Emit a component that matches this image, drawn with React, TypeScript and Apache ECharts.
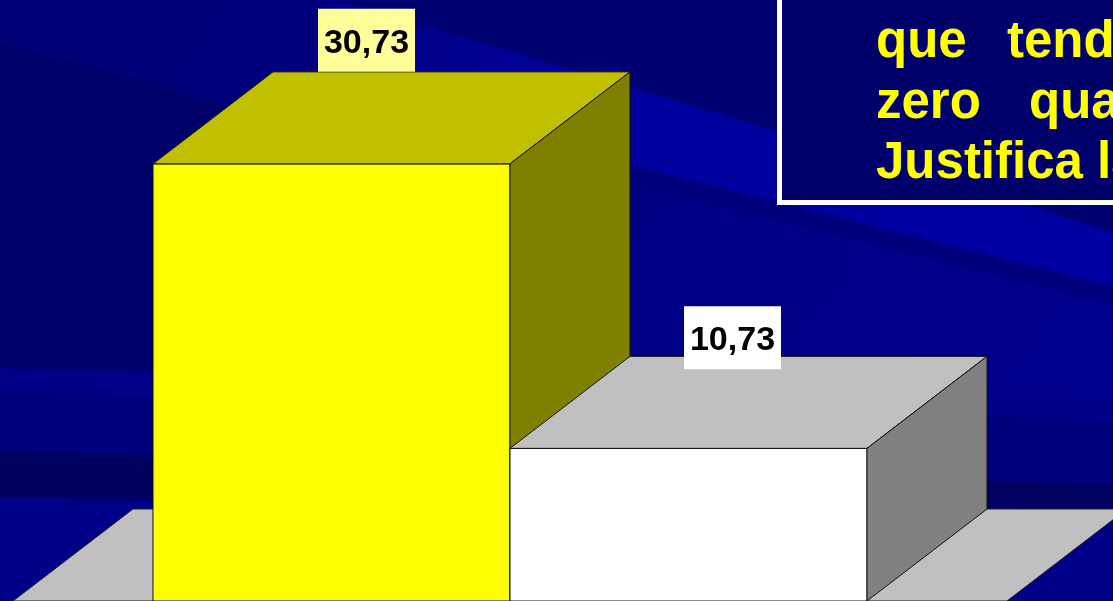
import React, { useEffect, useRef } from "react";
import * as echarts from "echarts";

// ---- data ----
const CATEGORIES = [""];
const SERIES_NAMES = ["Série 1", "Série 2"];
const VALUES = [30.73, 10.73];
const Y_MIN = 0;
const Y_MAX = 40;
const TEXT_LINES = [
  ["que", "tend"],
  ["zero", "qua"],
  ["Justifica la"],
];

// ---- styles ----
const DEPTH_X = 120;
const DEPTH_Y = -92;
const BAR_RATIO = 357 / 994;
const BAR_STYLES = [
  { front: "#FFFF00", top: "#C0C000", side: "#808000", label: "#FFFF99", ldx: 165, ldy: -155 },
  { front: "#FFFFFF", top: "#C0C0C0", side: "#808080", label: "#FFFFFF", ldx: 174, ldy: -142 },
];
const FONT = "'Liberation Sans', Arial, Helvetica, sans-serif";
const fmt = (v: number) => v.toFixed(2).replace(".", ",");

export default function App() {
  const ref = useRef<HTMLDivElement>(null);

  useEffect(() => {
    if (!ref.current) return;
    const chart = echarts.init(ref.current, null, { renderer: "svg" });

    const floorSeries: any = {
      type: "custom",
      name: "floor",
      z: 1,
      silent: true,
      data: [[0, 0]],
      renderItem: (params: any, api: any) => {
        const base = api.coord([api.value(0), Y_MIN]);
        const band = api.size([1, 0])[0];
        const l = base[0] - band / 2;
        const r = base[0] + band / 2;
        const y = base[1];
        return {
          type: "polygon",
          shape: {
            points: [
              [l, y],
              [r, y],
              [r + DEPTH_X, y + DEPTH_Y],
              [l + DEPTH_X, y + DEPTH_Y],
            ],
          },
          style: { fill: "#C0C0C0", stroke: "#222222", lineWidth: 1 },
        };
      },
    };

    const barSeries = VALUES.map((v, si) => ({
      type: "custom",
      name: SERIES_NAMES[si],
      z: 2 + si,
      data: [[0, v]],
      renderItem: (params: any, api: any) => {
        const cat = api.value(0);
        const val = api.value(1);
        const base = api.coord([cat, Y_MIN]);
        const top = api.coord([cat, val]);
        const band = api.size([1, 0])[0];
        const w = band * BAR_RATIO;
        const x0 = base[0] - w * (VALUES.length / 2) + si * w;
        const x1 = x0 + w;
        const yb = base[1];
        const yt = top[1];
        const st = BAR_STYLES[si];
        const stroke = { stroke: "#111111", lineWidth: 1 };
        const lx = x0 + st.ldx;
        const ly = yt + st.ldy;
        return {
          type: "group",
          children: [
            {
              type: "rect",
              shape: { x: x0, y: yt, width: w, height: yb - yt },
              style: { fill: st.front, ...stroke },
            },
            {
              type: "polygon",
              shape: {
                points: [
                  [x0, yt],
                  [x1, yt],
                  [x1 + DEPTH_X, yt + DEPTH_Y],
                  [x0 + DEPTH_X, yt + DEPTH_Y],
                ],
              },
              style: { fill: st.top, ...stroke },
            },
            {
              type: "polygon",
              shape: {
                points: [
                  [x1, yt],
                  [x1 + DEPTH_X, yt + DEPTH_Y],
                  [x1 + DEPTH_X, yb + DEPTH_Y],
                  [x1, yb],
                ],
              },
              style: { fill: st.side, ...stroke },
            },
            {
              type: "rect",
              shape: { x: lx, y: ly, width: 97, height: 63 },
              style: { fill: st.label },
            },
            {
              type: "text",
              style: {
                x: lx + 48.5,
                y: ly + 32,
                text: fmt(val),
                fill: "#000000",
                font: `bold 34px ${FONT}`,
                align: "center",
                verticalAlign: "middle",
              },
            },
          ],
        };
      },
    }));

    const poly = (pts: number[][], fill: any, z = -9) => ({
      type: "polygon",
      z,
      silent: true,
      shape: { points: pts },
      style: { fill },
    });
    // band between two lines, each given as [yAtLeft, yAtRight]
    const bandPoly = (a: number[], b: number[], fill: any) =>
      poly(
        [
          [-10, a[0]],
          [1130, a[1]],
          [1130, b[1]],
          [-10, b[0]],
        ],
        fill
      );
    const brightLine = (x: number) => 87 + (x - 630) * 0.3;
    const brightLow = (x: number) => 165 + (x - 630) * 0.25;

    const words: any[] = [];
    const wordX = [
      [876, 1007],
      [876, 1029],
      [876],
    ];
    const lineY = [39, 100, 160];
    TEXT_LINES.forEach((line, li) => {
      line.forEach((w, wi) => {
        words.push({
          type: "text",
          z: 101,
          x: wordX[li][wi],
          y: lineY[li],
          style: {
            text: w,
            fill: "#FFFF00",
            font: `bold 51px ${FONT}`,
            align: "left",
            verticalAlign: "middle",
          },
        });
      });
    });

    chart.setOption({
      animation: false,
      grid: { left: 13, width: 994, top: 32, height: 570 },
      xAxis: { type: "category", data: CATEGORIES, show: false },
      yAxis: { type: "value", min: Y_MIN, max: Y_MAX, show: false },
      graphic: [
        {
          type: "rect",
          z: -10,
          silent: true,
          shape: { x: 0, y: 0, width: 1113, height: 601 },
          style: {
            fill: new echarts.graphic.LinearGradient(0, 0, 1, 0.4, [
              { offset: 0, color: "#000078" },
              { offset: 1, color: "#00008E" },
            ]),
          },
        },
        // dark region lower-left of the top area
        poly(
          [
            [-10, 40],
            [150, 80],
            [350, 150],
            [560, 230],
            [560, 380],
            [-10, 368],
          ],
          "#00006C"
        ),
        // dark region top-right, above the bright streak
        poly(
          [
            [330, -10],
            [1130, -10],
            [1130, brightLine(1130)],
            [330, brightLine(330)],
          ],
          "#000070"
        ),
        // bright streak
        poly(
          [
            [330, brightLine(330)],
            [1130, brightLine(1130)],
            [1130, brightLow(1130)],
            [330, brightLow(330)],
          ],
          new echarts.graphic.LinearGradient(0, 0, 1, 0, [
            { offset: 0, color: "#000084" },
            { offset: 0.4, color: "#00009E" },
            { offset: 1, color: "#0000A2" },
          ])
        ),
        poly(
          [
            [560, brightLow(560)],
            [1130, brightLow(1130)],
            [1130, brightLow(1130) + 20],
            [560, brightLow(560) + 20],
          ],
          "#00007E"
        ),
        bandPoly([368, 400], [392, 420], "#000088"),
        bandPoly([392, 420], [450, 485], "#00007E"),
        bandPoly([450, 485], [498, 510], "#000060"),
        bandPoly([498, 510], [620, 620], "#000088"),
        {
          type: "rect",
          z: 100,
          silent: true,
          shape: { x: 779.5, y: -10, width: 400, height: 212.5 },
          style: { fill: "#00006B", stroke: "#FFFFFF", lineWidth: 5 },
        },
        ...words,
      ],
      series: [floorSeries, ...barSeries],
    });

    return () => chart.dispose();
  }, []);

  return (
    <div
      ref={ref}
      style={{ position: "fixed", left: 0, top: 0, width: 1113, height: 601 }}
    />
  );
}
